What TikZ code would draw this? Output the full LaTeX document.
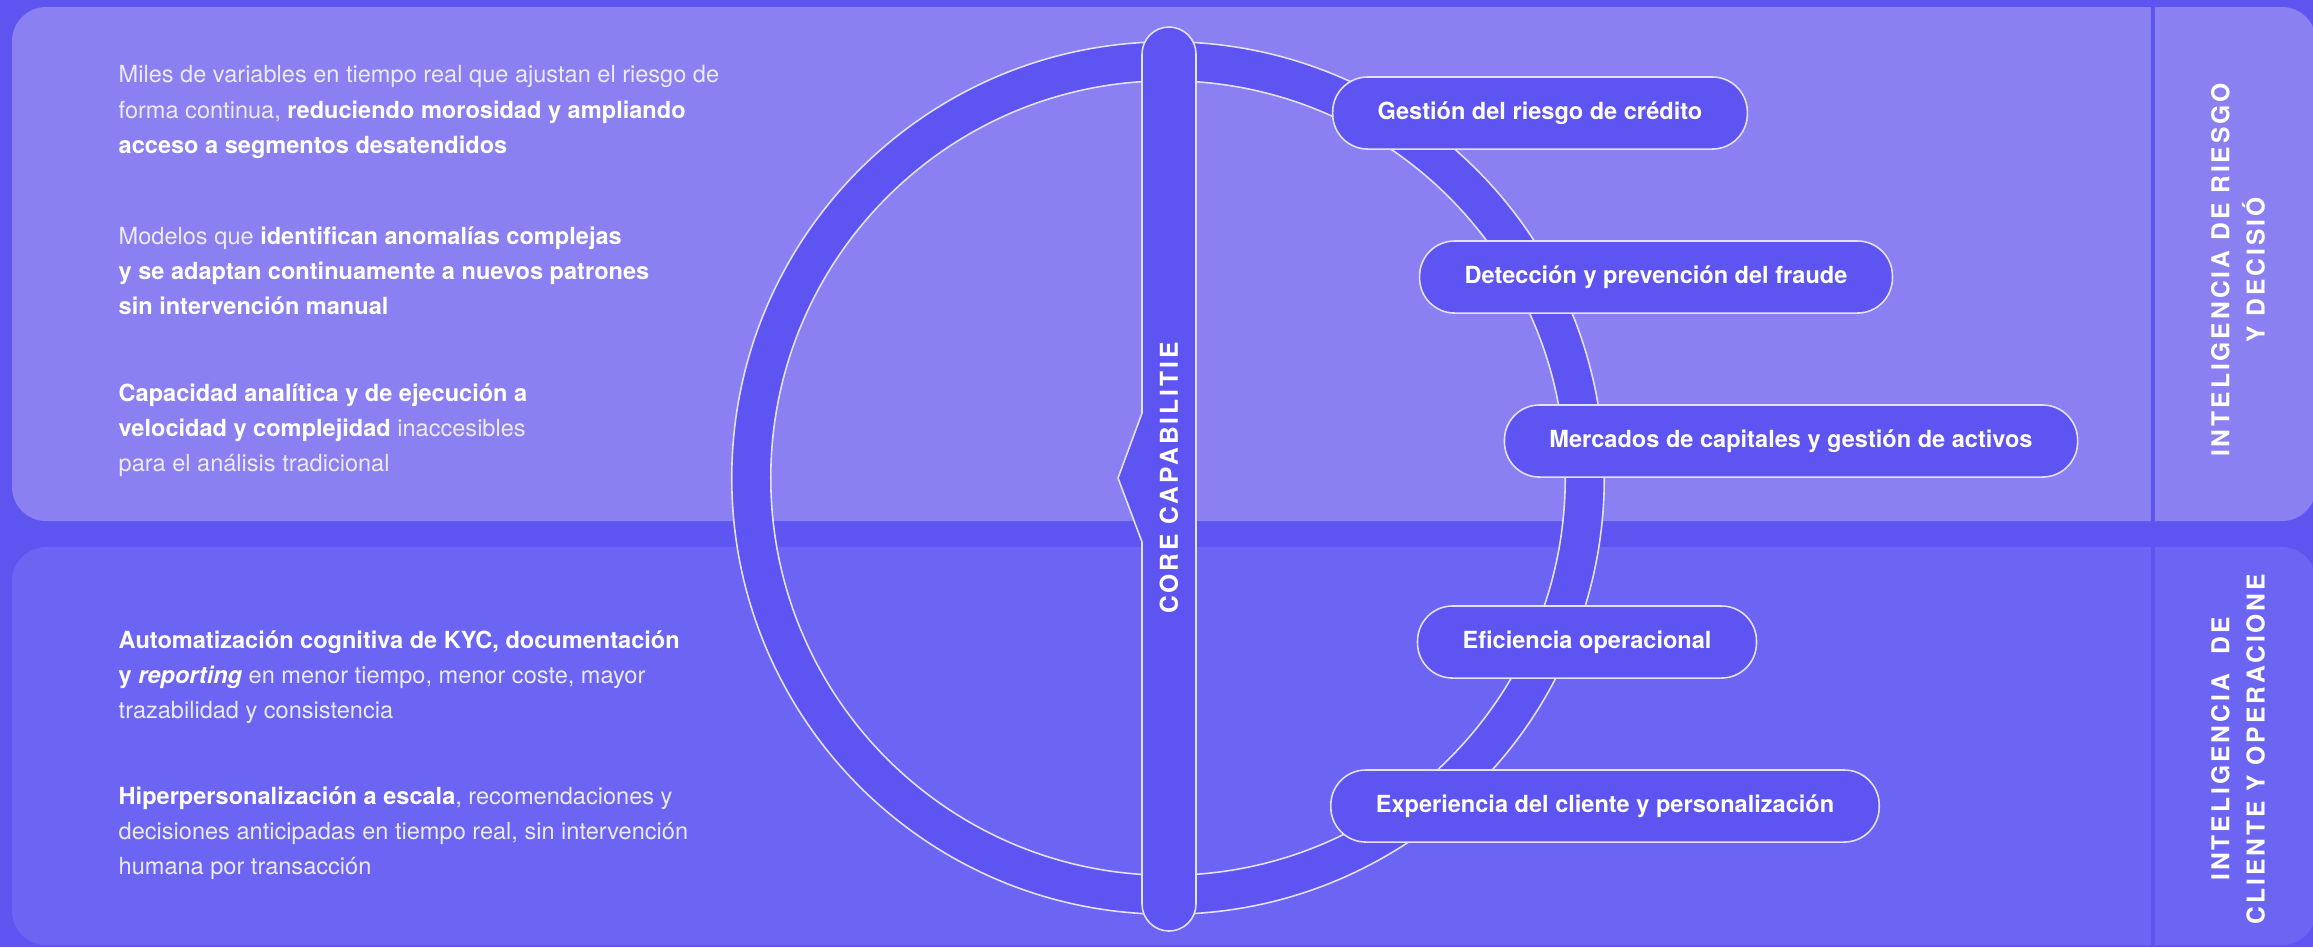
\documentclass[tikz,border=0pt]{standalone}
\usepackage{fontspec}
\setmainfont{TeX Gyre Heros}
\newfontfamily\spacedfont[LetterSpace=12]{TeX Gyre Heros}
\usepackage{xcolor}
\usepackage{tikz}

\definecolor{bgdark}{HTML}{5E55F1}
\definecolor{panelhi}{HTML}{8A80F1}
\definecolor{panello}{HTML}{6C64F3}
\definecolor{ringfill}{HTML}{5E54F1}
\definecolor{edgeline}{HTML}{E4E1FD}
\definecolor{softtext}{HTML}{ECEAFD}

\newcommand{\keytext}[1]{{\color{white}\bfseries #1}}

\begin{document}
\begin{tikzpicture}[
    x=0.01cm, y=-0.01cm,
    panel/.style={rounded corners=0.34cm},
    edge/.style={draw=edgeline, line width=0.45pt},
    para/.style={anchor=west, align=left, inner sep=0pt, text=softtext, font=\fontsize{6.7}{10}\selectfont},
    pill/.style={edge, fill=ringfill, rounded corners=0.35cm, minimum height=0.72cm, inner xsep=0.45cm, text=white, font=\fontsize{6.7}{8}\selectfont\bfseries},
    sidelabel/.style={rotate=90, align=center, text=white, inner sep=0pt, font=\spacedfont\fontsize{7}{10}\selectfont\bfseries}
]
    % Panels
    \useasboundingbox (0,0) rectangle (2313,947);
    \fill[bgdark] (0,0) rectangle (2313,947);
    \fill[panelhi, panel] (12,7) rectangle (2316,521);
    \fill[panello, panel] (12,547) rectangle (2316,945);
    \draw[bgdark, line width=0.9pt] (2153,7) -- (2153,945);

    % Ring
    \coordinate (hub) at (1168,478);
    \draw[edge, fill=ringfill, even odd rule] (hub) circle[radius=4.36cm] (hub) circle[radius=3.97cm];

    % Core bar
    \draw[edge, fill=ringfill, rounded corners=0.27cm] (1142,27) rectangle (1196,931);
    \fill[ringfill] (1142,413) -- (1118,478) -- (1142,542) -- (1146,542) -- (1146,413) -- cycle;
    \draw[edge] (1142,413) -- (1118,478) -- (1142,542);
    \node[sidelabel] (core) at (1169,478) {CORE CAPABILITIE};

    % Use cases
    \node[pill] (credito) at (1540,113) {Gestión del riesgo de crédito};
    \node[pill] (fraude) at (1656,277) {Detección y prevención del fraude};
    \node[pill] (capitales) at (1791,441) {Mercados de capitales y gestión de activos};
    \node[pill] (eficiencia) at (1587,642) {Eficiencia operacional};
    \node[pill] (experiencia) at (1605,806) {Experiencia del cliente y personalización};

    % Side labels
    \node[sidelabel] (riesgo) at (2238,270) {INTELIGENCIA DE RIESGO\\Y DECISIÓ};
    \node[sidelabel] (cliente) at (2238,749) {INTELIGENCIA~~DE\\CLIENTE Y OPERACIONE};

    % Descriptions
    \node[para] (modelo) at (118,112) {Miles de variables en tiempo real que ajustan el riesgo de\\
        forma continua, \keytext{reduciendo morosidad y ampliando}\\
        \keytext{acceso a segmentos desatendidos}};
    \node[para] (anomalia) at (118,271) {Modelos que \keytext{identifican anomalías complejas}\\
        \keytext{y se adaptan continuamente a nuevos patrones}\\
        \keytext{sin intervención manual}};
    \node[para] (analitica) at (118,430) {\keytext{Capacidad analítica y de ejecución a}\\
        \keytext{velocidad y complejidad} inaccesibles\\
        para el análisis tradicional};
    \node[para] (kyc) at (118,677) {\keytext{Automatización cognitiva de KYC, documentación}\\
        \keytext{y \itshape reporting} en menor tiempo, menor coste, mayor\\
        trazabilidad y consistencia};
    \node[para] (hiper) at (118,833) {\keytext{Hiperpersonalización a escala}, recomendaciones y\\
        decisiones anticipadas en tiempo real, sin intervención\\
        humana por transacción};
\end{tikzpicture}
\end{document}
